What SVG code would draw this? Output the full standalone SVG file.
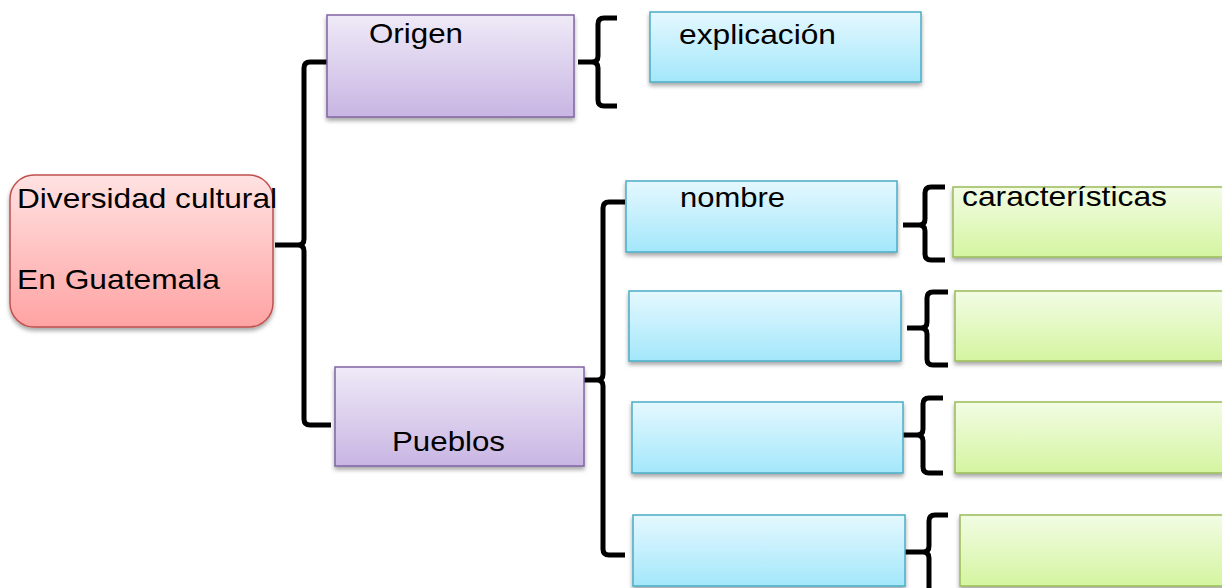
<svg xmlns="http://www.w3.org/2000/svg" width="1222" height="588" viewBox="0 0 1222 588">
<defs>
<linearGradient id="gRed" x1="0" y1="0" x2="0" y2="1"><stop offset="0" stop-color="#FFE2E2"/><stop offset="1" stop-color="#FFA3A3"/></linearGradient>
<linearGradient id="gPur" x1="0" y1="0" x2="0" y2="1"><stop offset="0" stop-color="#EFEAF7"/><stop offset="1" stop-color="#C8B5E3"/></linearGradient>
<linearGradient id="gBlu" x1="0" y1="0" x2="0" y2="1"><stop offset="0" stop-color="#E5F8FE"/><stop offset="1" stop-color="#A3E7FB"/></linearGradient>
<linearGradient id="gGrn" x1="0" y1="0" x2="0" y2="1"><stop offset="0" stop-color="#F2FCE4"/><stop offset="1" stop-color="#D4F5A0"/></linearGradient>
<filter id="sh" x="-10%" y="-20%" width="120%" height="150%"><feDropShadow dx="0" dy="3" stdDeviation="2" flood-color="#000" flood-opacity="0.35"/></filter>
</defs>
<style>
.red{fill:url(#gRed);stroke:#C0504D;stroke-width:1.5;filter:url(#sh)}
.pur{fill:url(#gPur);stroke:#8064A2;stroke-width:1.5;filter:url(#sh)}
.blu{fill:url(#gBlu);stroke:#4BACC6;stroke-width:1.5;filter:url(#sh)}
.grn{fill:url(#gGrn);stroke:#9BBB59;stroke-width:1.5;filter:url(#sh)}
.t{font-family:"Liberation Sans",Arial,sans-serif;font-size:28px;fill:#000}
.br{fill:none;stroke:#000;stroke-width:5;stroke-linejoin:round;stroke-linecap:butt}
</style>
<rect width="1222" height="588" fill="#fff"/>
<g id="connectors">
<path class="br" d="M330,62 H310 Q304,62 304,68 V239 Q304,245 298,245 H275 M298,245 Q304,245 304,251 V419 Q304,425 310,425 H331"/>
<path class="br" d="M617,18 H604 Q598,18 598,24 V56 Q598,62 592,62 H578 M592,62 Q598,62 598,68 V100 Q598,106 604,106 H617"/>
<path class="br" d="M625,202 H609 Q603,202 603,208 V374 Q603,380 597,380 H582 M597,380 Q603,380 603,386 V549 Q603,555 609,555 H625"/>
<path class="br" d="M945,187 H931 Q925,187 925,193 V219 Q925,225 919,225 H903 M919,225 Q925,225 925,231 V254 Q925,260 931,260 H945"/>
<path class="br" d="M948,292 H933 Q927,292 927,298 V322 Q927,328 921,328 H907 M921,328 Q927,328 927,334 V359 Q927,365 933,365 H948"/>
<path class="br" d="M943,398 H929 Q923,398 923,404 V429 Q923,435 917,435 H902 M917,435 Q923,435 923,441 V467 Q923,473 929,473 H943"/>
<path class="br" d="M948,515 H935 Q929,515 929,521 V546 Q929,552 923,552 H905 M923,552 Q929,552 929,558 V590"/>
</g>
<g id="n-diversidad">
<rect class="red" x="10" y="175" width="263" height="152" rx="24"/>
<text class="t" x="17" y="208" textLength="260" lengthAdjust="spacingAndGlyphs">Diversidad cultural</text>
<text class="t" x="17" y="289" textLength="203" lengthAdjust="spacingAndGlyphs">En Guatemala</text>
</g>
<g id="n-origen">
<rect class="pur" x="327" y="15" width="247" height="102"/>
<text class="t" x="369" y="43" textLength="94" lengthAdjust="spacingAndGlyphs">Origen</text>
</g>
<g id="n-explicacion">
<rect class="blu" x="650" y="12" width="271" height="70"/>
<text class="t" x="679" y="44" textLength="157" lengthAdjust="spacingAndGlyphs">explicación</text>
</g>
<g id="n-pueblos">
<rect class="pur" x="335" y="367" width="249" height="99"/>
<text class="t" x="392" y="451" textLength="113" lengthAdjust="spacingAndGlyphs">Pueblos</text>
</g>
<g id="n-nombre">
<rect class="blu" x="626" y="181" width="271" height="71"/>
<text class="t" x="680" y="207" textLength="105" lengthAdjust="spacingAndGlyphs">nombre</text>
</g>
<g id="n-blue2"><rect class="blu" x="629" y="291" width="272" height="70"/></g>
<g id="n-blue3"><rect class="blu" x="632" y="402" width="271" height="71"/></g>
<g id="n-blue4"><rect class="blu" x="633" y="515" width="272" height="71"/></g>
<g id="n-caracteristicas">
<rect class="grn" x="953" y="187" width="290" height="70"/>
<text class="t" x="962" y="206" textLength="205" lengthAdjust="spacingAndGlyphs">características</text>
</g>
<g id="n-green2"><rect class="grn" x="955" y="291" width="290" height="70"/></g>
<g id="n-green3"><rect class="grn" x="955" y="402" width="290" height="71"/></g>
<g id="n-green4"><rect class="grn" x="960" y="515" width="290" height="71"/></g>
</svg>
